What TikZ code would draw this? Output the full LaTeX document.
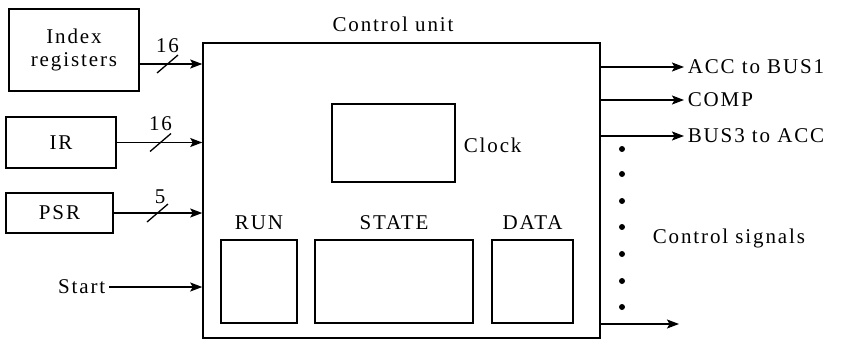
\documentclass[tikz,border=0pt]{standalone}
\usepackage{fontspec}
\setmainfont{Liberation Serif}[LetterSpace=9]
\usetikzlibrary{arrows.meta}
\begin{document}
\begin{tikzpicture}[x=1pt,y=-1pt,line width=1.5pt,
  txt/.style={font=\fontsize{21}{23}\selectfont,inner sep=0pt},
  box/.style={draw,rectangle,inner sep=0pt,txt,align=center},
  arr/.style={-{Stealth[length=12pt,width=9pt,inset=2.5pt]}},
  slash/.style={line width=1.3pt},
  dot/.style={circle,fill,inner sep=0pt,minimum size=6pt}]
\useasboundingbox (0,0) rectangle (841,340);

% input boxes
\node[box,minimum width=130pt,minimum height=82pt] (ix) at (74,50) {Index\\registers};
\node[box,minimum width=110pt,minimum height=51pt] (ir) at (61,142.5) {IR};
\node[box,minimum width=107pt,minimum height=40pt] (psr) at (59.5,213) {PSR};
\node[txt,anchor=east] (start) at (106,287) {Start};

% control unit
\node[draw,rectangle,minimum width=397pt,minimum height=295pt] (cu) at (401.5,190.5) {};
\node[txt,anchor=base] (cutitle) at (393,31) {Control unit};

\node[draw,rectangle,minimum width=123pt,minimum height=78pt] (clk) at (393.5,143) {};
\node[txt,anchor=base west] (clklbl) at (463,152) {Clock};

\node[draw,rectangle,minimum width=76pt,minimum height=83pt] (run) at (259,281.5) {};
\node[draw,rectangle,minimum width=158pt,minimum height=83pt] (state) at (394,281.5) {};
\node[draw,rectangle,minimum width=81pt,minimum height=83pt] (data) at (532.5,281.5) {};
\node[txt,anchor=base] (runlbl) at ([yshift=10pt]run.north) {RUN};
\node[txt,anchor=base] (statelbl) at ([yshift=10pt]state.north) {STATE};
\node[txt,anchor=base] (datalbl) at ([yshift=10pt]data.north) {DATA};

% input arrows
\coordinate (ixo) at ([yshift=-14pt]ix.east);
\draw[arr] (ixo) -- (ixo -| cu.west);
\draw[arr] (ir.east) -- (ir.east -| cu.west);
\draw[arr] (psr.east) -- (psr.east -| cu.west);
\draw[arr] ([xshift=3pt]start.east) -- (start.east -| cu.west);

% bus width slashes
\coordinate (s1) at (167.5,64);
\coordinate (s2) at (160.5,142.5);
\coordinate (s3) at (157.5,213);
\draw[slash] ([shift={(-10.5,9)}]s1) -- ([shift={(10.5,-9)}]s1);
\draw[slash] ([shift={(-10.5,9)}]s2) -- ([shift={(10.5,-9)}]s2);
\draw[slash] ([shift={(-10.5,9)}]s3) -- ([shift={(10.5,-9)}]s3);
\node[txt,anchor=base] (n1) at ([shift={(0,-12)}]s1) {16};
\node[txt,anchor=base] (n2) at ([shift={(0,-12.5)}]s2) {16};
\node[txt,anchor=base] (n3) at ([shift={(2.5,-10)}]s3) {5};

% output signals
\node[txt,anchor=west] (acc) at (687,67) {ACC to BUS1};
\node[txt,anchor=west] (comp) at (687,100) {COMP};
\node[txt,anchor=west] (bus3) at (687,136) {BUS3 to ACC};
\draw[arr] (acc.west -| cu.east) -- ([xshift=-3pt]acc.west);
\draw[arr] (comp.west -| cu.east) -- ([xshift=-3pt]comp.west);
\draw[arr] (bus3.west -| cu.east) -- ([xshift=-3pt]bus3.west);
\coordinate (last) at (679,324);
\draw[arr] (last -| cu.east) -- (last);

\foreach \yy [count=\i] in {149,174,201,227,254,281,307}
  \node[dot] (d\i) at (622,\yy) {};
\node[txt,anchor=base west] (ctrl) at (652,243) {Control signals};
\end{tikzpicture}
\end{document}
